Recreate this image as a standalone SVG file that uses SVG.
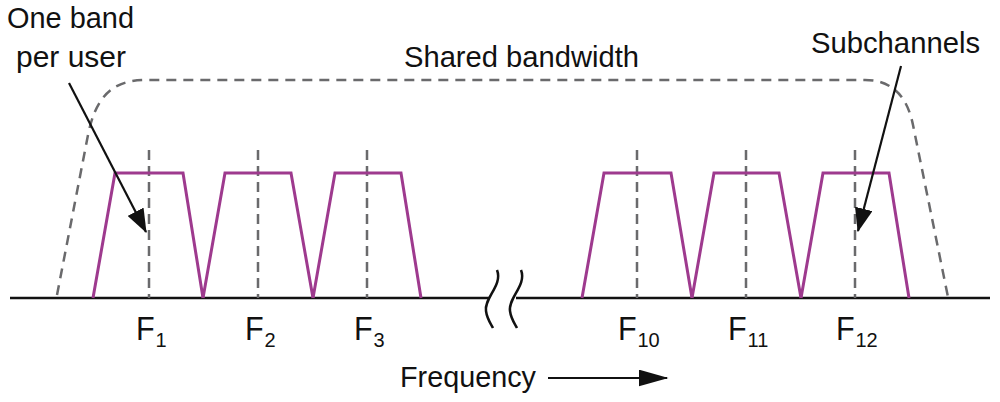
<svg xmlns="http://www.w3.org/2000/svg" width="1000" height="402" viewBox="0 0 1000 402">
<defs>
<style>
.txt{font-family:"Liberation Sans",Arial,sans-serif;font-size:30px;fill:#111}
.flab{font-family:"Liberation Sans",Arial,sans-serif;font-size:34px;fill:#111}
.sub{font-family:"Liberation Sans",Arial,sans-serif;font-size:20px;fill:#111}
.env{fill:none;stroke:#6a6a6c;stroke-width:2.5;stroke-dasharray:10 7}
.center{fill:none;stroke:#6a6a6c;stroke-width:2.5;stroke-dasharray:10 6}
.band{fill:none;stroke:#9e3a8e;stroke-width:3;stroke-linejoin:miter}
.axis{fill:none;stroke:#111;stroke-width:2.5}
.pointer{fill:none;stroke:#111;stroke-width:2.2}
</style>
<marker id="ahBig" viewBox="0 0 10 10" refX="9.5" refY="5" markerWidth="24" markerHeight="18" markerUnits="userSpaceOnUse" orient="auto" preserveAspectRatio="none">
<path d="M0,0 L10,5 L0,10 Z" fill="#111"/>
</marker>
<marker id="ahFreq" viewBox="0 0 10 10" refX="9.5" refY="5" markerWidth="30" markerHeight="17" markerUnits="userSpaceOnUse" orient="auto" preserveAspectRatio="none">
<path d="M0,0 L10,5 L0,10 Z" fill="#111"/>
</marker>
</defs>

<g id="envelope">
<path class="env" d="M57,295 L88,135 C95,100 110,80 145,80 L865,80 C895,80 908,100 913,125 L948,297"/>
</g>

<g id="axis">
<line class="axis" x1="10" y1="298" x2="489" y2="298"/>
<line class="axis" x1="516" y1="298" x2="990" y2="298"/>
<path class="axis" d="M497,270 C503,285 484,298 486,311 C487,319 491,324 493,328"/>
<path class="axis" d="M521,270 C527,285 508,298 510,311 C511,319 515,324 517,328"/>
</g>

<g id="centers">
<line class="center" x1="149" y1="150" x2="149" y2="298"/>
<line class="center" x1="258" y1="150" x2="258" y2="298"/>
<line class="center" x1="367" y1="150" x2="367" y2="298"/>
<line class="center" x1="637" y1="150" x2="637" y2="298"/>
<line class="center" x1="746" y1="150" x2="746" y2="298"/>
<line class="center" x1="855" y1="150" x2="855" y2="298"/>
</g>

<g id="band-F1"><path class="band" d="M93,298 L115,173 L183,173 L203,298"/></g>
<g id="band-F2"><path class="band" d="M203,298 L225,173 L291,173 L313,298"/></g>
<g id="band-F3"><path class="band" d="M313,298 L335,173 L401,173 L421,298"/></g>
<g id="band-F10"><path class="band" d="M582,298 L604,173 L671,173 L692,298"/></g>
<g id="band-F11"><path class="band" d="M692,298 L714,173 L779,173 L801,298"/></g>
<g id="band-F12"><path class="band" d="M801,298 L823,173 L889,173 L909,298"/></g>

<g id="labels">
<text class="flab" x="136" y="340" textLength="18.7" lengthAdjust="spacingAndGlyphs">F</text>
<text class="sub" x="155.5" y="347">1</text>
<text class="flab" x="245" y="340" textLength="18.7" lengthAdjust="spacingAndGlyphs">F</text>
<text class="sub" x="264.5" y="347">2</text>
<text class="flab" x="354" y="340" textLength="18.7" lengthAdjust="spacingAndGlyphs">F</text>
<text class="sub" x="373.5" y="347">3</text>
<text class="flab" x="618" y="340" textLength="18.7" lengthAdjust="spacingAndGlyphs">F</text>
<text class="sub" x="637.5" y="347">10</text>
<text class="flab" x="728" y="340" textLength="18.7" lengthAdjust="spacingAndGlyphs">F</text>
<text class="sub" x="747.5" y="347">11</text>
<text class="flab" x="836" y="340" textLength="18.7" lengthAdjust="spacingAndGlyphs">F</text>
<text class="sub" x="855.5" y="347">12</text>
</g>

<g id="label-one-band">
<text class="txt" x="7" y="28" textLength="127" lengthAdjust="spacingAndGlyphs">One band</text>
<text class="txt" x="16" y="67" textLength="110" lengthAdjust="spacingAndGlyphs">per user</text>
</g>
<g id="label-shared">
<text class="txt" x="404" y="67" textLength="235" lengthAdjust="spacingAndGlyphs">Shared bandwidth</text>
</g>
<g id="label-sub">
<text class="txt" x="811" y="53" textLength="169" lengthAdjust="spacingAndGlyphs">Subchannels</text>
</g>
<g id="label-frequency">
<text class="txt" x="400" y="387" textLength="136" lengthAdjust="spacingAndGlyphs">Frequency</text>
</g>

<g id="connectors">
<line class="pointer" x1="69" y1="83" x2="146" y2="232" marker-end="url(#ahBig)"/>
<line class="pointer" x1="901" y1="66" x2="858" y2="231" marker-end="url(#ahBig)"/>
<line class="pointer" x1="548" y1="378" x2="667" y2="378" marker-end="url(#ahFreq)"/>
</g>
</svg>
